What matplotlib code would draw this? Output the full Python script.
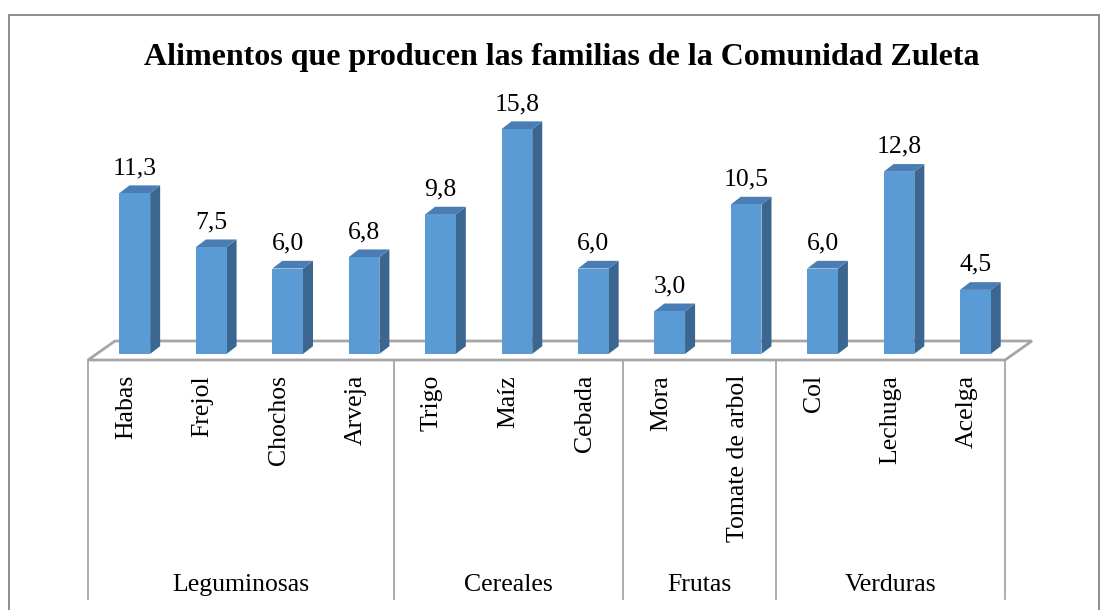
import matplotlib
matplotlib.use("Agg")
import matplotlib.pyplot as plt
from matplotlib.patches import Polygon, Rectangle

plt.rcParams['font.family'] = ['Liberation Serif', 'DejaVu Serif']

# ---- data ----
categories = ["Habas", "Frejol", "Chochos", "Arveja", "Trigo", "Maíz", "Cebada",
              "Mora", "Tomate de arbol", "Col", "Lechuga", "Acelga"]
values = [11.3, 7.5, 6.0, 6.8, 9.8, 15.8, 6.0, 3.0, 10.5, 6.0, 12.8, 4.5]
value_labels = ["11,3", "7,5", "6,0", "6,8", "9,8", "15,8", "6,0", "3,0", "10,5", "6,0", "12,8", "4,5"]
groups = ["Leguminosas", "Cereales", "Frutas", "Verduras"]
group_sizes = [4, 3, 2, 3]
title = "Alimentos que producen las familias de la Comunidad Zuleta"

# ---- layout constants (pixels) ----
W, H = 1102, 610
x0_px, x1_px = 88, 1005          # floor front edge
floor_y_px = 360                 # floor front line (value 0)
px_per_cat = (x1_px - x0_px) / len(categories)
px_per_val = 14.23
floor_depth = (27, 19)
front_off = (8.6, 6.1)
bar_depth = (10, 7.7)
bar_w = 30.7 / px_per_cat

fig = plt.figure(figsize=(W / 100, H / 100), dpi=100)
ax = fig.add_axes([0, 0, 1, 1])
xl = -0.5 - x0_px / px_per_cat
xr = -0.5 + (W - x0_px) / px_per_cat
yt = floor_y_px / px_per_val
yb = -(H - floor_y_px) / px_per_val
ax.set_xlim(xl, xr)
ax.set_ylim(yb, yt)
ax.axis('off')

def dx(p): return p / px_per_cat
def dy(p): return p / px_per_val

# outer frame
ax.add_patch(Rectangle((xl + dx(9), yb - 1), dx(1099 - 9), yt - dy(15) - yb + 1,
                       fill=False, edgecolor='#8c8c8c', lw=1.4, zorder=1))

# floor
n = len(categories)
L, R = -0.5, n - 0.5
fdx, fdy = dx(floor_depth[0]), dy(floor_depth[1])
ax.add_patch(Polygon([(L, 0), (R, 0), (R + fdx, fdy), (L + fdx, fdy)], closed=True,
                     facecolor='white', edgecolor='#a6a6a6', lw=2.0, zorder=2))

# group dividers and labels
bottom_line = -(599 - floor_y_px) / px_per_val
start = 0
bounds = [L]
for g, s in zip(groups, group_sizes):
    end = start + s
    bounds.append(end - 0.5)
    ax.text((start + end - 1) / 2, -(585 - floor_y_px) / px_per_val, g,
            ha='center', va='center', fontsize=18.5, zorder=5)
    start = end
for b in bounds:
    ax.plot([b, b], [0, bottom_line], color='#a6a6a6', lw=1.3, zorder=2)

# category labels
for i, c in enumerate(categories):
    ax.text(i, -(375 - floor_y_px) / px_per_val, c, rotation=90, ha='center', va='top',
            fontsize=18.5, zorder=5, rotation_mode='default')

# bars
fx, fy = dx(front_off[0]), dy(front_off[1])
bx, by = dx(bar_depth[0]), dy(bar_depth[1])
front_c, side_c, top_c = '#5b9bd5', '#3a6690', '#4a7db4'
for i, v in enumerate(values):
    xc = i + fx
    l, r = xc - bar_w / 2, xc + bar_w / 2
    b0, t0 = fy, fy + v
    # side
    ax.add_patch(Polygon([(r, b0), (r + bx, b0 + by), (r + bx, t0 + by), (r, t0)],
                         closed=True, facecolor=side_c, edgecolor='none', zorder=3))
    # top
    ax.add_patch(Polygon([(l, t0), (r, t0), (r + bx, t0 + by), (l + bx, t0 + by)],
                         closed=True, facecolor=top_c, edgecolor='none', zorder=3))
ax.bar([i + fx for i in range(n)], values, width=bar_w, bottom=fy, color=front_c,
       edgecolor='none', zorder=4)
for i, (v, lab) in enumerate(zip(values, value_labels)):
    ax.text(i + fx, fy + v + dy(14), lab, ha='center', va='bottom', fontsize=18.5, zorder=5)

# title
ax.text((xl + xr) / 2 + dx(11), (floor_y_px - 57) / px_per_val, title, ha='center', va='center',
        fontsize=23, fontweight='bold', zorder=5)

fig.savefig('out.png', dpi=100)
